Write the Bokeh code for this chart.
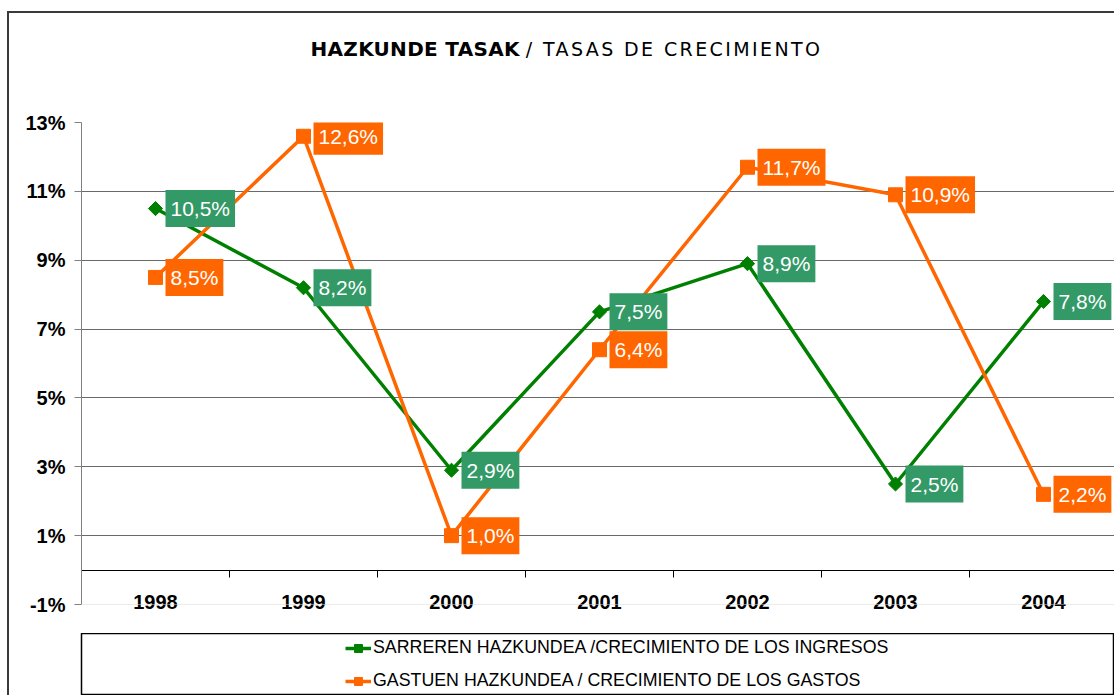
import math
from bokeh.plotting import figure
from bokeh.layouts import column
from bokeh.models import (Range1d, FixedTicker, LinearAxis, Span, Legend, LegendItem,
                          ColumnDataSource, Div)
from bokeh.embed import file_html
from bokeh.resources import INLINE
from bokeh.core.properties import value

years = ["1998", "1999", "2000", "2001", "2002", "2003", "2004"]
ingresos = [10.5, 8.2, 2.9, 7.5, 8.9, 2.5, 7.8]
gastos = [8.5, 12.6, 1.0, 6.4, 11.7, 10.9, 2.2]
y_ticks = [-1, 1, 3, 5, 7, 9, 11, 13]
name_ing = "SARREREN HAZKUNDEA /CRECIMIENTO DE LOS INGRESOS"
name_gas = "GASTUEN HAZKUNDEA / CRECIMIENTO DE LOS GASTOS"
title_bold = "HAZKUNDE TASAK"
title_rest = "/ TASAS DE CRECIMIENTO"

GREEN = "#008000"
GREEN_BOX = "#339966"
ORANGE = "#FF6600"
FONT = "Liberation Sans"

xs = list(range(len(years)))
def fmt(v):
    return ("%.1f" % v).replace(".", ",") + "%"

src_i = ColumnDataSource(dict(x=xs, y=ingresos, t=[fmt(v) for v in ingresos]))
src_g = ColumnDataSource(dict(x=xs, y=gastos, t=[fmt(v) for v in gastos]))

CW = 1105  # child width inside the bordered box

# ---- title ----
title = Div(text='<div style="width:%dpx;text-align:center;font-family:\'DejaVu Sans\';'
                 'font-size:19px;color:black;padding-top:17px;padding-left:0px;white-space:nowrap;">'
                 '<b style="font-size:20px;letter-spacing:0.3px;">%s</b> '
                 '<span style="letter-spacing:2.4px;">%s</span></div>' % (CW, title_bold, title_rest),
            width=CW, height=50)

# ---- main chart ----
p = figure(width=CW, height=560, output_backend="svg", toolbar_location=None,
           x_range=Range1d(-0.5, -0.5 + 1033 / 148.0), y_range=Range1d(-1, 13),
           min_border_left=72, min_border_top=49, min_border_right=0, min_border_bottom=29,
           outline_line_color=None, background_fill_color="white", border_fill_color="white")

p.yaxis.ticker = FixedTicker(ticks=y_ticks)
p.yaxis.major_label_overrides = {t: "%d%%" % t for t in y_ticks}
p.yaxis.major_label_text_font = FONT
p.yaxis.major_label_text_font_style = "bold"
p.yaxis.major_label_text_font_size = "20px"
p.yaxis.major_label_text_color = "black"
p.yaxis.axis_line_color = "#808080"
p.yaxis.major_tick_line_color = "#808080"
p.yaxis.major_tick_in = 0
p.yaxis.major_tick_out = 7
p.yaxis.minor_tick_line_color = None
p.yaxis.major_label_standoff = 9

p.xaxis.ticker = FixedTicker(ticks=xs)
p.xaxis.major_label_overrides = {i: y for i, y in enumerate(years)}
p.xaxis.major_label_text_font = FONT
p.xaxis.major_label_text_font_style = "bold"
p.xaxis.major_label_text_font_size = "20px"
p.xaxis.major_label_text_color = "black"
p.xaxis.axis_line_color = None
p.xaxis.major_tick_line_color = None
p.xaxis.minor_tick_line_color = None
p.xaxis.major_label_standoff = -16

p.xgrid.grid_line_color = None
p.ygrid.ticker = FixedTicker(ticks=[t for t in y_ticks if t > -1])
p.ygrid.grid_line_color = "#6a6a6a"
p.add_layout(Span(location=-1, dimension="width", line_color="#d8d8d8", line_width=1))

bticks = [i + 0.5 for i in xs[:-1]]
zax = LinearAxis(fixed_location=0, ticker=FixedTicker(ticks=bticks),
                 axis_line_color="black", major_tick_line_color="black",
                 major_tick_in=0, major_tick_out=7, minor_tick_line_color=None,
                 major_label_overrides={t: "" for t in bticks},
                 major_label_text_font_size="1px", major_label_standoff=0)
p.add_layout(zax, "below")

p.line("x", "y", source=src_i, line_color=GREEN, line_width=3.5)
p.scatter("x", "y", source=src_i, marker="square", angle=math.pi / 4, size=10,
          fill_color=GREEN, line_color=GREEN)
p.line("x", "y", source=src_g, line_color=ORANGE, line_width=3.5)
p.scatter("x", "y", source=src_g, marker="square", size=14, fill_color=ORANGE, line_color=ORANGE)

for src, col in ((src_i, GREEN_BOX), (src_g, ORANGE)):
    p.text("x", "y", text="t", source=src, x_offset=10, anchor="center_left",
           text_align="left", text_baseline="middle",
           text_font=value(FONT), text_font_size="21px", text_color="white",
           background_fill_color=col, padding=(5, 7))

# ---- legend panel (same series, drawn outside its view so only the legend shows) ----
pl = figure(width=CW, height=62, output_backend="svg", toolbar_location=None,
            x_axis_type=None, y_axis_type=None, x_range=Range1d(0, 1), y_range=Range1d(-30, -29),
            min_border_left=72, min_border_top=0, min_border_right=0, min_border_bottom=0,
            outline_line_color="black", outline_line_width=1.5,
            background_fill_color="white", border_fill_color="white")
pl.xgrid.grid_line_color = None
pl.ygrid.grid_line_color = None
l_i = pl.line("x", "y", source=src_i, line_color=GREEN, line_width=3.5)
s_i = pl.scatter("x", "y", source=src_i, marker="square", angle=math.pi / 4, size=10,
                 fill_color=GREEN, line_color=GREEN)
l_g = pl.line("x", "y", source=src_g, line_color=ORANGE, line_width=3.5)
s_g = pl.scatter("x", "y", source=src_g, marker="square", size=14, fill_color=ORANGE, line_color=ORANGE)

legend = Legend(items=[LegendItem(label=name_ing, renderers=[l_i, s_i]),
                       LegendItem(label=name_gas, renderers=[l_g, s_g])],
                location=(264, 4), orientation="vertical",
                border_line_color=None, background_fill_alpha=0,
                label_text_font=FONT, label_text_font_size="17.8px", label_text_color="black",
                glyph_width=26, glyph_height=20, label_height=20, label_standoff=2,
                spacing=12, padding=0, margin=0)
pl.add_layout(legend, "center")

layout = column(title, p, pl, spacing=0, margin=(11, 0, 0, 7),
                styles={"border-top": "2px solid #3a3a3a", "border-left": "2px solid #3a3a3a"})

open("out.html", "w").write(file_html(layout, INLINE))
